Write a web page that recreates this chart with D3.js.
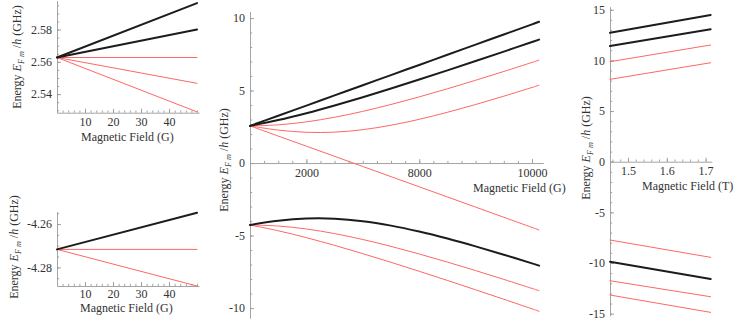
<!DOCTYPE html>
<html><head><meta charset="utf-8">
<script src="https://cdn.jsdelivr.net/npm/d3@7"></script>
<style>
body{margin:0;background:#fff}
svg{display:block;font-family:"Liberation Serif","Times New Roman",serif}
text{font-family:"Liberation Serif","Times New Roman",serif}
</style>
</head><body>
<svg id="c" width="735" height="323"></svg>
<script>
// ---------- DATA ----------
// Low field, upper hyperfine level (F=2), field in G
const lowB = [0, 50];
const lowUpper = [
  {m: 2,  color: "black", values: [2.5627, 2.5964]},
  {m: 1,  color: "black", values: [2.5627, 2.5800]},
  {m: 0,  color: "red",   values: [2.5627, 2.5627]},
  {m: -1, color: "red",   values: [2.5627, 2.5467]},
  {m: -2, color: "red",   values: [2.5627, 2.5290]}
];
// Low field, lower hyperfine level (F=1)
const lowLower = [
  {m: -1, color: "black", values: [-4.2717, -4.2548]},
  {m: 0,  color: "red",   values: [-4.2717, -4.2717]},
  {m: 1,  color: "red",   values: [-4.2717, -4.2886]}
];
// Intermediate field (G)
const midB = [0, 1000, 2000, 3000, 4000, 5000, 6000, 7000, 8000, 9000, 10000, 10250];
const midSeries = [
  {name: "F2 m-2", color: "red",   values: [2.563, 1.863, 1.163, 0.462, -0.238, -0.939, -1.639, -2.339, -3.039, -3.740, -4.440, -4.615]},
  {name: "F2 m-1", color: "red",   values: [2.563, 2.272, 2.121, 2.131, 2.300, 2.606, 3.015, 3.500, 4.036, 4.610, 5.211, 5.364]},
  {name: "F2 m0",  color: "red",   values: [2.563, 2.634, 2.839, 3.157, 3.564, 4.038, 4.562, 5.121, 5.708, 6.315, 6.938, 7.096]},
  {name: "F1 m0",  color: "red",   values: [-4.272, -4.343, -4.548, -4.866, -5.273, -5.747, -6.271, -6.830, -7.417, -8.024, -8.647, -8.804]},
  {name: "F1 m1",  color: "red",   values: [-4.272, -4.670, -5.147, -5.679, -6.249, -6.847, -7.465, -8.098, -8.742, -9.395, -10.055, -10.221]},
  {name: "F2 m2",  color: "black", values: [2.563, 3.263, 3.963, 4.664, 5.364, 6.065, 6.765, 7.465, 8.165, 8.866, 9.566, 9.741]},
  {name: "F2 m1",  color: "black", values: [2.563, 2.962, 3.438, 3.970, 4.540, 5.138, 5.756, 6.389, 7.033, 7.686, 8.346, 8.512]},
  {name: "F1 m-1", color: "black", values: [-4.272, -3.981, -3.830, -3.840, -4.009, -4.315, -4.724, -5.208, -5.745, -6.319, -6.920, -7.073]}
];
// High field (T)
const highB = [1.4536, 1.713];
const highSeries = [
  {color: "red",   values: [9.87, 11.52]},
  {color: "red",   values: [8.13, 9.77]},
  {color: "red",   values: [-7.73, -9.44]},
  {color: "red",   values: [-11.75, -13.33]},
  {color: "red",   values: [-13.16, -14.87]},
  {color: "black", values: [12.73, 14.48]},
  {color: "black", values: [11.42, 13.07]},
  {color: "black", values: [-9.87, -11.58]}
];
// Tick values / labels
const lowXTicks = [10, 20, 30, 40];
const lowXLabels = ["10", "20", "30", "40"];
const upperYTicks = [2.54, 2.56, 2.58];
const upperYLabels = ["2.54", "2.56", "2.58"];
const lowerYTicks = [-4.28, -4.26];
const lowerYLabels = ["-4.28", "-4.26"];
const midXTicks = [2000, 6000, 10000];
const midXLabels = ["2000", "8000", "10000"];
const midYTicks = [-10, -5, 0, 5, 10];
const midYLabels = ["-10", "-5", "0", "5", "10"];
const highXTicks = [1.5, 1.6, 1.7];
const highXLabels = ["1.5", "1.6", "1.7"];
const highYTicks = [-15, -10, -5, 0, 5, 10, 15];
const highYLabels = ["-15", "-10", "-5", "0", "5", "10", "15"];
const xTitleG = "Magnetic Field (G)";
const xTitleT = "Magnetic Field (T)";

// ---------- DRAW ----------
const svg = d3.select("#c");
const FONT = "Liberation Serif, Times New Roman, serif";
const AXIS = "#9a9a9a", TXT = "#333", BLK = "#1c1c1c", RED = "#ff6666";

function range(a, b, s) { const r = []; for (let v = a; v <= b + 1e-9; v += s) r.push(+v.toFixed(6)); return r; }

function panel(o) {
  const g = svg.append("g");
  const x = d3.scaleLinear().domain(o.xd).range(o.xr);
  const y = d3.scaleLinear().domain(o.yd).range(o.yr);
  const xAt = y(o.xAxisAt);
  const yAt = o.xr[0];
  const lab = (ticks, labels) => d => labels[ticks.indexOf(d)];
  const mx = g.append("g").attr("transform", `translate(0,${xAt})`)
    .call(d3.axisBottom(x).tickValues(o.xMinor).tickFormat("").tickSizeInner(-2.2).tickSizeOuter(0));
  mx.select(".domain").remove();
  const my = g.append("g").attr("transform", `translate(${yAt},0)`)
    .call(d3.axisLeft(y).tickValues(o.yMinor).tickFormat("").tickSizeInner(-2.2).tickSizeOuter(0));
  my.select(".domain").remove();
  g.append("g").attr("transform", `translate(0,${xAt})`)
    .call(d3.axisBottom(x).tickValues(o.xTicks).tickFormat(lab(o.xTicks, o.xLabels)).tickSizeInner(-4).tickSizeOuter(0).tickPadding(o.xpad));
  g.append("g").attr("transform", `translate(${yAt},0)`)
    .call(d3.axisLeft(y).tickValues(o.yTicks).tickFormat(lab(o.yTicks, o.yLabels)).tickSizeInner(-4).tickSizeOuter(0).tickPadding(5));
  g.selectAll("g").attr("font-family", FONT);
  g.selectAll(".domain, .tick line").attr("stroke", AXIS).attr("stroke-width", 0.9);
  g.selectAll(".tick text").attr("fill", TXT).attr("font-size", o.fs).attr("font-family", FONT);

  const line = d3.line().x((d, i) => x(o.B[i])).y(d => y(d)).curve(d3.curveCatmullRom.alpha(0.5));
  const ser = o.series.slice().sort((a, b) => (a.color === "black") - (b.color === "black"));
  g.selectAll("path.s").data(ser).join("path").attr("class", "s")
    .attr("d", d => line(d.values))
    .attr("fill", "none")
    .attr("stroke", d => d.color === "black" ? BLK : RED)
    .attr("stroke-width", d => d.color === "black" ? 2 : 1)
    .attr("stroke-linecap", "round");

  g.append("text").attr("x", o.xt[0]).attr("y", o.xt[1]).attr("font-size", o.tfs)
    .attr("font-family", FONT).attr("fill", TXT).text(o.xTitle);
  const t = g.append("text").attr("transform", `translate(${o.yt[0]},${o.yt[1]}) rotate(-90)`)
    .attr("text-anchor", "middle").attr("font-size", o.tfs).attr("font-family", FONT).attr("fill", TXT);
  t.append("tspan").text("Energy ");
  t.append("tspan").attr("font-style", "italic").text("E");
  t.append("tspan").attr("font-style", "italic").attr("font-size", o.tfs * 0.68).attr("dy", 3).text("F");
  t.append("tspan").attr("font-style", "italic").attr("font-size", o.tfs * 0.68).attr("dx", 2).text("m");
  t.append("tspan").attr("dy", -3).text(" /");
  t.append("tspan").attr("font-style", "italic").text("h");
  t.append("tspan").text(" (GHz)");
}

panel({
  xd: [0, 50.7], xr: [57, 199], yd: [2.5285, 2.598], yr: [112.7, 0.5], xAxisAt: 2.5285,
  xTicks: lowXTicks, xLabels: lowXLabels, xMinor: range(2, 50, 2), xpad: 5,
  yTicks: upperYTicks, yLabels: upperYLabels, yMinor: range(2.53, 2.595, 0.005),
  B: lowB, series: lowUpper, fs: 12, tfs: 12,
  xTitle: xTitleG, xt: [81, 141], yt: [21, 57]
});
panel({
  xd: [0, 50.7], xr: [57, 199], yd: [-4.2886, -4.2543], yr: [286, 211.7], xAxisAt: -4.2886,
  xTicks: lowXTicks, xLabels: lowXLabels, xMinor: range(2, 50, 2), xpad: 3,
  yTicks: lowerYTicks, yLabels: lowerYLabels, yMinor: range(-4.285, -4.255, 0.005),
  B: lowB, series: lowLower, fs: 12, tfs: 12,
  xTitle: xTitleG, xt: [80, 312], yt: [18, 247]
});
panel({
  xd: [0, 10400], xr: [250, 543.3], yd: [-10.7, 10.45], yr: [318.2, 11.5], xAxisAt: 0,
  xTicks: midXTicks, xLabels: midXLabels, xMinor: range(500, 10000, 500), xpad: 5,
  yTicks: midYTicks, yLabels: midYLabels, yMinor: range(-10, 10, 1),
  B: midB, series: midSeries, fs: 12, tfs: 12,
  xTitle: xTitleG, xt: [473, 192], yt: [228, 160]
});
panel({
  xd: [1.4536, 1.716], xr: [610, 711.8], yd: [-15.2, 15.3], yr: [315.7, 6.7], xAxisAt: 0,
  xTicks: highXTicks, xLabels: highXLabels, xMinor: range(1.46, 1.71, 0.02), xpad: 5,
  yTicks: highYTicks, yLabels: highYLabels, yMinor: range(-15, 15, 1),
  B: highB, series: highSeries, fs: 12, tfs: 12,
  xTitle: xTitleT, xt: [642, 190], yt: [590, 148]
});
</script>
</body></html>
